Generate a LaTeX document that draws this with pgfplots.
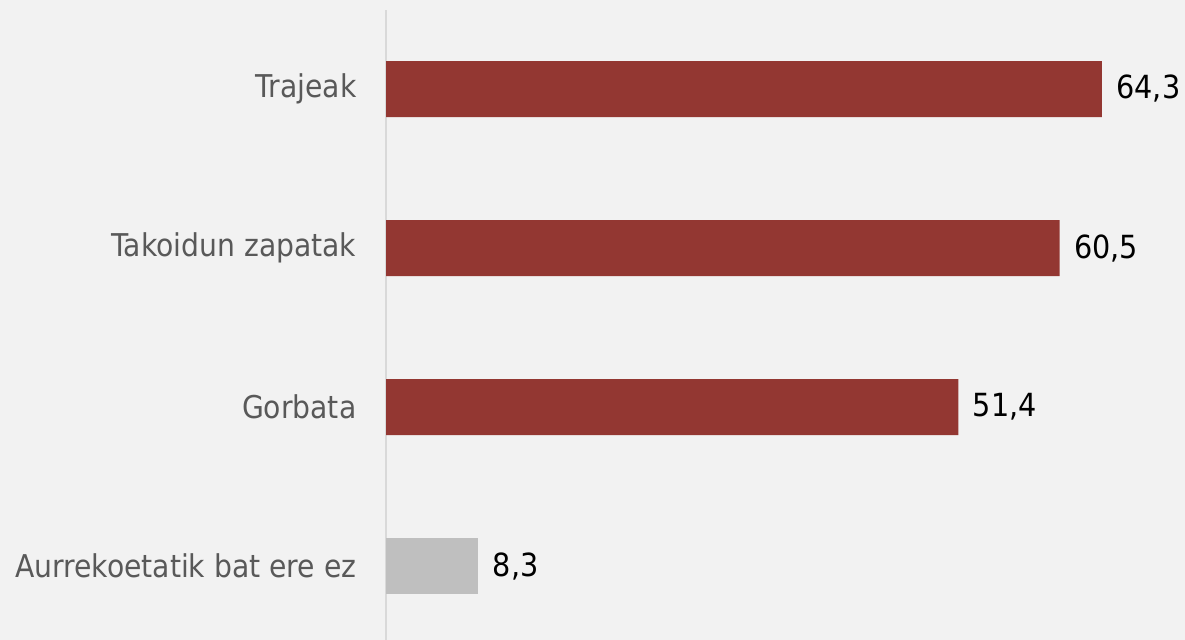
\documentclass[border=0pt]{standalone}
\usepackage{pgfplots}
\pgfplotsset{compat=1.18}
\usepackage{fontspec}
\setmainfont{DejaVu Sans Condensed}
\definecolor{bg}{HTML}{F2F2F2}
\definecolor{barred}{HTML}{933732}
\definecolor{bargray}{HTML}{BFBFBF}
\definecolor{lblgray}{HTML}{595959}
\definecolor{axgray}{HTML}{D9D9D9}
\begin{document}
\begin{tikzpicture}
\fill[bg] (0,0) rectangle (1185bp,640bp);
\begin{axis}[
  at={(386bp,0bp)}, anchor=south west,
  scale only axis,
  width=799bp, height=630bp,
  xmin=0, xmax=71.76,
  ymin=-0.465, ymax=3.497,
  xbar, bar shift=0pt, bar width=56bp,
  hide x axis,
  axis y line=left,
  y axis line style={draw=axgray, line width=1.5bp, -},
  ytick={0,1,2,3},
  yticklabels={Aurrekoetatik bat ere ez, Gorbata, Takoidun zapatak, Trajeak},
  ytick style={draw=none},
  yticklabel style={font=\fontsize{31.5}{36}\selectfont, text=lblgray, xshift=-24bp},
  nodes near coords,
  nodes near coords style={font=\fontsize{32}{36}\selectfont, text=black, anchor=west, xshift=11bp,
    /pgf/number format/.cd, fixed, fixed zerofill, precision=1, use comma, assume math mode=true},
  clip=false,
]
\addplot[fill=barred, draw=none] coordinates {(64.3,3) (60.5,2) (51.4,1)};
\addplot[fill=bargray, draw=none] coordinates {(8.3,0)};
\end{axis}
\pgfresetboundingbox
\path (0,0) rectangle (1185bp,640bp);
\end{tikzpicture}
\end{document}
